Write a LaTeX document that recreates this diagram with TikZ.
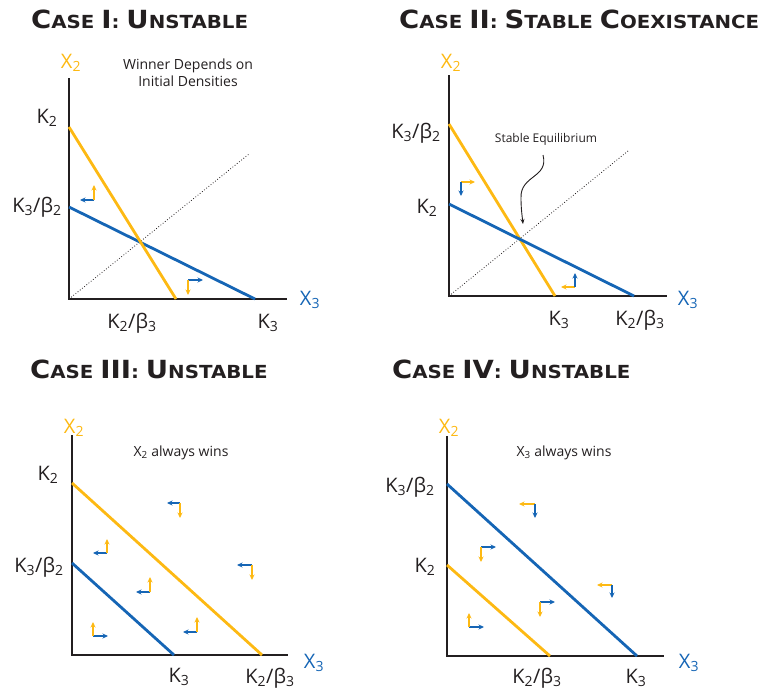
\documentclass[tikz,border=0pt]{standalone}
\usepackage{fontspec}
\usepackage{tikz}
\usetikzlibrary{arrows.meta}
\setmainfont{Open Sans}
\newfontfamily\titlefont[FakeStretch=1.1]{DejaVu Sans}
\definecolor{isoyellow}{RGB}{253,185,19}
\definecolor{isoblue}{RGB}{21,101,181}
\definecolor{axisgray}{RGB}{35,31,32}
\newcommand{\tcap}[1]{{\fontsize{25}{25}\selectfont #1}}
\newcommand{\casename}[1]{{\titlefont\bfseries\fontsize{18}{18}\selectfont #1}}

\begin{document}
\begin{tikzpicture}[x=1pt, y=-1pt,
    every node/.style={font=\fontsize{20}{20}\selectfont, text=axisgray, inner sep=0pt},
    note/.style={font=\fontsize{14}{17}\selectfont, align=center},
    axis/.style={axisgray, line width=2pt, line join=miter},
    diag/.style={axisgray, dotted, line width=0.8pt},
    yline/.style={isoyellow, line width=2.8pt},
    bline/.style={isoblue, line width=2.8pt},
    flow/.style={line width=1.2pt, -{Stealth[length=5.5pt,width=5pt]}}]
  \useasboundingbox (0,0) rectangle (768,694);

  % Case I
  \node[anchor=base west] (t1) at (31,28) {\casename{\tcap{C}ASE \tcap{I}: \tcap{U}NSTABLE}};
  \coordinate (o1) at (69,299);
  \draw[axis] (69,78) -- (o1) -- (287,299);
  \draw[diag] (o1) -- (249,154);
  \draw[bline] (69,207) -- (255,299);
  \draw[yline] (69,127) -- (176,299);
  \node[anchor=base, text=isoyellow] (x21) at (71,68) {X\textsubscript{2}};
  \node[anchor=base, text=isoblue] (x31) at (310,305) {X\textsubscript{3}};
  \node[anchor=base] (k21) at (47,123) {K\textsubscript{2}};
  \node[anchor=base] (k3b21) at (37,212) {K\textsubscript{3}/β\textsubscript{2}};
  \node[anchor=base] (k2b31) at (132,328) {K\textsubscript{2}/β\textsubscript{3}};
  \node[anchor=base] (k31) at (268,328) {K\textsubscript{3}};
  \node[note, anchor=base] (win1) at (188,86) {Winner Depends on\\Initial Densities};
  \foreach \cx/\cy/\h/\hc/\v/\vc in {94/200/-14/isoblue/-15/isoyellow, 188/280/15/isoblue/15/isoyellow}{
    \draw[flow, \hc] (\cx,\cy) -- ++(\h,0);
    \draw[flow, \vc] (\cx,\cy) -- ++(0,\v);
  }

  % Case II
  \node[anchor=base west] (t2) at (399,28) {\casename{\tcap{C}ASE \tcap{II}: \tcap{S}TABLE \tcap{C}OEXISTANCE}};
  \coordinate (o2) at (449,296);
  \coordinate (eq2) at (520,238);
  \draw[axis] (449,75) -- (o2) -- (667,296);
  \draw[diag] (o2) -- (628,151);
  \draw[yline] (449,124) -- (555,296);
  \draw[bline] (449,204) -- (634,296);
  \node[anchor=base, text=isoyellow] (x22) at (451,68) {X\textsubscript{2}};
  \node[anchor=base, text=isoblue] (x32) at (688,305) {X\textsubscript{3}};
  \node[anchor=base] (k3b22) at (416,138) {K\textsubscript{3}/β\textsubscript{2}};
  \node[anchor=base] (k22) at (427,213) {K\textsubscript{2}};
  \node[anchor=base] (k32) at (559,325) {K\textsubscript{3}};
  \node[anchor=base] (k2b32) at (640,325) {K\textsubscript{2}/β\textsubscript{3}};
  \node[note, font=\fontsize{12}{14}\selectfont, anchor=base] (stab) at (546,142) {Stable Equilibrium};
  \draw[axisgray, line width=0.9pt, -{Stealth[length=5pt,width=4pt]}]
    (543,155) .. controls (549,178) and (520,175) .. (521,198)
    .. controls (521,208) and (522,215) .. ([shift={(3,-14)}]eq2);
  \foreach \cx/\cy/\h/\hc/\v/\vc in {461/182/14/isoyellow/14/isoblue, 575/287/-14/isoyellow/-14/isoblue}{
    \draw[flow, \hc] (\cx,\cy) -- ++(\h,0);
    \draw[flow, \vc] (\cx,\cy) -- ++(0,\v);
  }

  % Case III
  \node[anchor=base west] (t3) at (30,378) {\casename{\tcap{C}ASE \tcap{III}: \tcap{U}NSTABLE}};
  \coordinate (o3) at (72,655);
  \draw[axis] (72,435) -- (o3) -- (288,655);
  \draw[yline] (72,483) -- (262,655);
  \draw[bline] (72,563) -- (174,655);
  \node[anchor=base, text=isoyellow] (x23) at (74,433) {X\textsubscript{2}};
  \node[anchor=base, text=isoblue] (x33) at (314,668) {X\textsubscript{3}};
  \node[anchor=base] (k23) at (48,480) {K\textsubscript{2}};
  \node[anchor=base] (k3b23) at (39,572) {K\textsubscript{3}/β\textsubscript{2}};
  \node[anchor=base] (k33) at (179,682) {K\textsubscript{3}};
  \node[anchor=base] (k2b33) at (270,683) {K\textsubscript{2}/β\textsubscript{3}};
  \node[note, anchor=base] (win3) at (181,456) {X\textsubscript{2} always wins};
  \foreach \cx/\cy/\h/\hc/\v/\vc in {180/503/-13/isoblue/15/isoyellow, 252/565/-15/isoblue/15/isoyellow,
      107/553/-14/isoblue/-14/isoyellow, 150/592/-14/isoblue/-15/isoyellow,
      197/632/-14/isoblue/-15/isoyellow, 93/636/15/isoblue/-14/isoyellow}{
    \draw[flow, \hc] (\cx,\cy) -- ++(\h,0);
    \draw[flow, \vc] (\cx,\cy) -- ++(0,\v);
  }

  % Case IV
  \node[anchor=base west] (t4) at (392,378) {\casename{\tcap{C}ASE \tcap{IV}: \tcap{U}NSTABLE}};
  \coordinate (o4) at (447,656);
  \draw[axis] (447,436) -- (o4) -- (664,656);
  \draw[bline] (447,484) -- (637,656);
  \draw[yline] (447,565) -- (550,656);
  \node[anchor=base, text=isoyellow] (x24) at (449,433) {X\textsubscript{2}};
  \node[anchor=base, text=isoblue] (x34) at (689,668) {X\textsubscript{3}};
  \node[anchor=base] (k3b24) at (410,492) {K\textsubscript{3}/β\textsubscript{2}};
  \node[anchor=base] (k24) at (425,572) {K\textsubscript{2}};
  \node[anchor=base] (k2b34) at (537,683) {K\textsubscript{2}/β\textsubscript{3}};
  \node[anchor=base] (k34) at (636,683) {K\textsubscript{3}};
  \node[note, anchor=base] (win4) at (564,456) {X\textsubscript{3} always wins};
  \foreach \cx/\cy/\h/\hc/\v/\vc in {535/504/-16/isoyellow/14/isoblue, 612/585/-15/isoyellow/13/isoblue,
      481/547/15/isoblue/15/isoyellow, 540/602/15/isoblue/15/isoyellow,
      469/627/15/isoblue/-14/isoyellow}{
    \draw[flow, \hc] (\cx,\cy) -- ++(\h,0);
    \draw[flow, \vc] (\cx,\cy) -- ++(0,\v);
  }
\end{tikzpicture}
\end{document}
